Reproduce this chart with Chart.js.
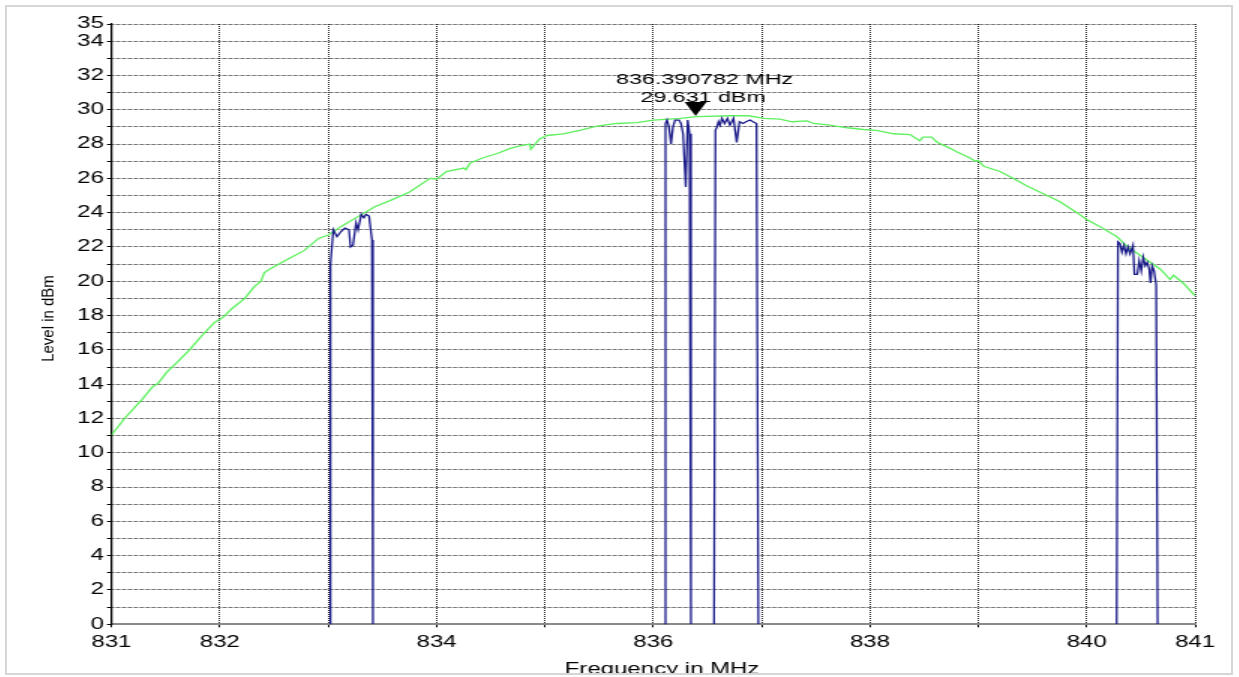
<!DOCTYPE html>
<html>
<head>
<meta charset="utf-8">
<style>
  html, body { margin: 0; padding: 0; background: #fff; }
  #frame {
    position: absolute; left: 5px; top: 5px;
    width: 1224px; height: 666px;
    border: 2px solid #d6d6d6;
    overflow: hidden; background: #fff;
  }
  /* the original plot is a narrow graph stretched sideways */
  #stretch { transform: scaleX(1.5); transform-origin: 0 0; width: 816px; height: 680px; }
</style>
</head>
<body>
<div id="frame">
  <div id="stretch">
    <canvas id="myChart" width="816" height="680"></canvas>
  </div>
</div>

<script src="https://cdn.jsdelivr.net/npm/chart.js/dist/chart.umd.min.js"></script>
<script>
// setup
const STRETCH = 1.5;
const FONT = "'Liberation Sans', Arial, sans-serif";

// tick labels shown on the axes
const xLabels = [831, 832, 834, 836, 838, 840, 841];
const yLabels = [0, 2, 4, 6, 8, 10, 12, 14, 16, 18, 20, 22, 24, 26, 28, 30, 32, 34, 35];

// green trace (max hold)
const greenFreq = [831.00, 831.12, 831.28, 831.38, 831.43, 831.51, 831.61, 831.72, 831.83, 831.95,
  832.03, 832.11, 832.23, 832.32, 832.38, 832.41, 832.47, 832.63, 832.78, 832.91,
  833.00, 833.12, 833.31, 833.43, 833.57, 833.75, 833.94, 834.00, 834.09, 834.25,
  834.27, 834.31, 834.43, 834.56, 834.68, 834.77, 834.86, 834.87, 834.95, 835.02,
  835.17, 835.32, 835.48, 835.66, 835.85, 836.00, 836.25, 836.40, 836.71, 836.88,
  837.02, 837.17, 837.28, 837.42, 837.48, 837.63, 837.79, 837.94, 838.06, 838.22,
  838.37, 838.46, 838.49, 838.57, 838.62, 838.74, 838.80, 838.92, 838.97, 839.00,
  839.05, 839.20, 839.32, 839.45, 839.60, 839.75, 839.91, 840.00, 840.12, 840.28,
  840.37, 840.52, 840.68, 840.77, 840.80, 840.89, 841.00];
const greenLevel = [11.04, 12.0, 13.1, 13.85, 14.05, 14.7, 15.3, 16.0, 16.8, 17.6,
  17.9, 18.4, 19.0, 19.7, 20.0, 20.5, 20.75, 21.3, 21.8, 22.5,
  22.7, 23.2, 23.9, 24.35, 24.7, 25.2, 26.0, 25.95, 26.4, 26.6,
  26.5, 26.9, 27.2, 27.45, 27.75, 27.9, 28.0, 27.7, 28.3, 28.5,
  28.6, 28.8, 29.05, 29.2, 29.25, 29.4, 29.5, 29.6, 29.65, 29.65,
  29.5, 29.45, 29.3, 29.35, 29.2, 29.1, 28.95, 28.85, 28.8, 28.6,
  28.55, 28.2, 28.4, 28.4, 28.1, 27.75, 27.55, 27.2, 27.0, 27.05,
  26.7, 26.4, 26.0, 25.55, 25.1, 24.65, 24.0, 23.6, 23.2, 22.6,
  22.05, 21.4, 20.7, 20.1, 20.35, 19.9, 19.15];

// blue trace, one array pair per carrier
const band1Freq = [833.012, 833.021, 833.047, 833.081, 833.118, 833.155, 833.192, 833.206, 833.229, 833.257, 833.275, 833.305, 833.330, 833.349, 833.377, 833.404, 833.413];
const band1Level = [0, 21.0, 23.0, 22.6, 22.9, 23.1, 23.0, 22.0, 22.1, 23.4, 23.0, 23.9, 23.7, 23.9, 23.8, 22.4, 0];
const band2Freq = [836.104, 836.113, 836.127, 836.145, 836.164, 836.182, 836.201, 836.238, 836.256, 836.275, 836.300, 836.318, 836.335, 836.348];
const band2Level = [0, 29.2, 29.4, 29.0, 28.0, 29.0, 29.4, 29.4, 29.2, 28.6, 25.5, 29.4, 28.6, 0];
const band3Freq = [836.561, 836.574, 836.588, 836.602, 836.616, 836.634, 836.658, 836.685, 836.708, 836.741, 836.770, 836.796, 836.828, 836.856, 836.893, 836.921, 836.953, 836.970];
const band3Level = [0, 28.8, 29.0, 29.3, 29.1, 29.5, 29.2, 29.5, 29.1, 29.5, 28.1, 29.3, 29.2, 29.3, 29.4, 29.3, 29.2, 0];
const band4Freq = [840.277, 840.289, 840.307, 840.326, 840.344, 840.363, 840.381, 840.400, 840.427, 840.441, 840.467, 840.485, 840.504, 840.522, 840.541, 840.559, 840.578, 840.589, 840.604, 840.622, 840.641, 840.655];
const band4Level = [0, 22.3, 22.2, 21.7, 22.1, 21.6, 22.0, 21.6, 22.1, 20.4, 20.4, 21.2, 20.6, 21.4, 20.9, 21.1, 20.7, 19.9, 20.9, 20.6, 19.8, 0];

// marker
const markerFreq = 836.390782;
const markerLevel = 29.631;

const greenData = greenFreq.map((f, i) => ({ x: f, y: greenLevel[i] }));
const blueData = [];
[[band1Freq, band1Level], [band2Freq, band2Level], [band3Freq, band3Level], [band4Freq, band4Level]].forEach(([fs, ls]) => {
  fs.forEach((f, i) => blueData.push({ x: f, y: ls[i] }));
  blueData.push({ x: fs[fs.length - 1] + 0.01, y: null });
});

// marker on top of the traces, axis titles drawn by hand
const extras = {
  id: 'extras',
  afterDatasetsDraw(chart) {
    const ctx = chart.ctx;
    const px = chart.scales.x.getPixelForValue(markerFreq);
    const py = chart.scales.y.getPixelForValue(markerLevel);
    ctx.save();
    ctx.fillStyle = '#000';
    ctx.beginPath();
    ctx.moveTo(px, py);
    ctx.lineTo(px - 7.3, py - 14);
    ctx.lineTo(px + 7.3, py - 14);
    ctx.closePath();
    ctx.fill();
    ctx.font = '15.5px ' + FONT;
    ctx.textAlign = 'center';
    ctx.textBaseline = 'alphabetic';
    ctx.fillText(markerFreq.toFixed(6) + ' MHz', px + 6, py - 32.3);
    ctx.fillText(markerLevel.toFixed(3) + ' dBm', px + 5, py - 14.3);
    ctx.restore();
  },
  afterDraw(chart) {
    const ctx = chart.ctx;
    ctx.save();
    ctx.fillStyle = '#000';
    ctx.textAlign = 'center';
    ctx.font = '16px ' + FONT;
    ctx.textBaseline = 'alphabetic';
    ctx.fillText('Frequency in MHz', 436.7, 667.2);
    // y title keeps normal glyph proportions despite the stretch
    ctx.font = '15px ' + FONT;
    ctx.textBaseline = 'middle';
    ctx.translate(28, 311.5);
    ctx.scale(1 / STRETCH, 1);
    ctx.rotate(-Math.PI / 2);
    ctx.fillText('Level in dBm', 0, 0);
    ctx.restore();
  }
};

const config = {
  type: 'line',
  data: {
    datasets: [
      { label: 'Clear/Write', data: blueData, borderColor: '#1b1b8a', borderWidth: 1.3, spanGaps: false },
      { label: 'Max Hold', data: greenData, borderColor: '#5ef05e', borderWidth: 1.3 }
    ]
  },
  options: {
    responsive: false,
    animation: false,
    elements: { point: { radius: 0 }, line: { tension: 0 } },
    layout: { padding: { top: 17, right: 24, left: 0, bottom: 0 } },
    plugins: { legend: { display: false }, tooltip: { enabled: false } },
    scales: {
      x: {
        type: 'linear', min: 831, max: 841,
        afterFit: (s) => { s.height = 62.7; },
        ticks: {
          stepSize: 1, autoSkip: false, maxRotation: 0, padding: 6, color: '#000',
          font: { family: FONT, size: 16 },
          callback: (v) => xLabels.includes(v) ? String(v) : ''
        },
        grid: {
          color: 'rgba(0,0,0,0.85)', lineWidth: 1, tickLength: 3,
          tickColor: '#000', tickWidth: 1, tickBorderDash: []
        },
        border: { display: true, color: '#8a8a8a', width: 2, dash: [1, 1] }
      },
      y: {
        type: 'linear', min: 0, max: 35,
        afterFit: (s) => { s.width = 69.67; },
        ticks: {
          stepSize: 1, autoSkip: false, padding: 2, color: '#000',
          font: { family: FONT, size: 16 },
          callback: (v) => yLabels.includes(v) ? String(v) : ''
        },
        grid: {
          color: 'rgba(0,0,0,0.85)', lineWidth: 1, tickLength: 3,
          tickColor: '#000', tickWidth: 1, tickBorderDash: []
        },
        border: { display: true, color: '#000', width: 1.3, dash: [0.67, 0.67] }
      }
    }
  },
  plugins: [extras]
};

// render init block
const myChart = new Chart(document.getElementById('myChart'), config);
</script>
</body>
</html>
